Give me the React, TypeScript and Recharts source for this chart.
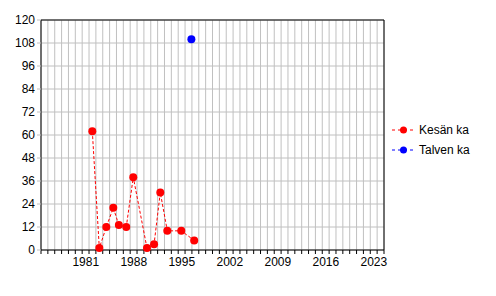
import { LineChart, Line, XAxis, YAxis, CartesianGrid, ReferenceLine } from 'recharts';

// summer averages (Kesän ka): decimal year of sample, value
const kesaYears = [1982.48, 1983.5, 1984.52, 1985.54, 1986.35, 1987.43, 1988.45, 1990.45, 1991.48, 1992.39, 1993.41, 1995.45, 1997.33];
const kesaValues = [62, 1, 12, 22, 13, 12, 38, 1, 3, 30, 10, 10, 5];

// winter averages (Talven ka)
const talviYears = [1996.92];
const talviValues = [110];

const yearTicks = Array.from({ length: 51 }, (_, i) => 1975 + i);
const labelYears = [1981, 1988, 1995, 2002, 2009, 2016, 2023];
const yTicks = [0, 12, 24, 36, 48, 60, 72, 84, 96, 108, 120];

const kesaData = kesaYears.map((x, i) => ({ x, kesa: kesaValues[i] }));
const talviData = talviYears.map((x, i) => ({ x, talvi: talviValues[i] }));

const FONT = '"Liberation Sans", Arial, sans-serif';

const legendItems = [
  { name: 'Kesän ka', color: '#ff0000' },
  { name: 'Talven ka', color: '#0000ff' },
];

function YearTick(props: any) {
  const { x, y, payload } = props;
  if (!labelYears.includes(payload.value)) return null;
  return (
    <text x={x + 3.6} y={y} dy="0.71em" textAnchor="middle" fill="#000" fontSize={12} fontFamily={FONT}>
      {payload.value}
    </text>
  );
}

function LegendBox() {
  return (
    <div style={{ position: 'absolute', left: 390, top: 120, fontFamily: FONT, fontSize: 12 }}>
      {legendItems.map((it) => (
        <div key={it.name} style={{ display: 'flex', alignItems: 'center', height: 20 }}>
          <svg width={26} height={10} style={{ marginRight: 3 }}>
            <line x1={2} y1={5} x2={24} y2={5} stroke={it.color} strokeDasharray="3 3" />
            <circle cx={13.5} cy={5} r={3.5} fill={it.color} />
          </svg>
          <span>{it.name}</span>
        </div>
      ))}
    </div>
  );
}

export default function App() {
  return (
    <div style={{ position: 'absolute', left: 0, top: 0, width: 496, height: 296, background: '#fff' }}>
      <LineChart width={496} height={296} margin={{ top: 20, right: 112, bottom: 0, left: 0 }}>
        <CartesianGrid stroke="#c0c0c0" />
        <XAxis
          dataKey="x"
          type="number"
          domain={[1975, 2025]}
          ticks={yearTicks}
          interval={0}
          tickFormatter={(v: number) => (labelYears.includes(v) ? String(v) : '')}
          tick={<YearTick />}
          tickSize={4}
          tickMargin={3}
          height={46}
          axisLine={{ stroke: '#000' }}
          tickLine={{ stroke: '#000' }}
          allowDuplicatedCategory={false}
        />
        <YAxis
          type="number"
          domain={[0, 120]}
          ticks={yTicks}
          interval={0}
          width={41}
          tickSize={4}
          tick={{ fill: '#000', fontSize: 12, fontFamily: FONT }}
          axisLine={{ stroke: '#000' }}
          tickLine={{ stroke: '#c0c0c0' }}
        />
        <ReferenceLine y={120} stroke="#000" />
        <ReferenceLine x={2025} stroke="#000" />
        <Line
          data={kesaData}
          dataKey="kesa"
          name="Kesän ka"
          stroke="#ff0000"
          strokeWidth={1}
          strokeDasharray="3 2"
          type="linear"
          dot={{ r: 4, fill: '#ff0000', stroke: 'none' }}
          isAnimationActive={false}
        />
        <Line
          data={talviData}
          dataKey="talvi"
          name="Talven ka"
          stroke="#0000ff"
          strokeWidth={1}
          strokeDasharray="3 2"
          type="linear"
          dot={{ r: 4, fill: '#0000ff', stroke: 'none' }}
          isAnimationActive={false}
        />
      </LineChart>
      <LegendBox />
    </div>
  );
}
